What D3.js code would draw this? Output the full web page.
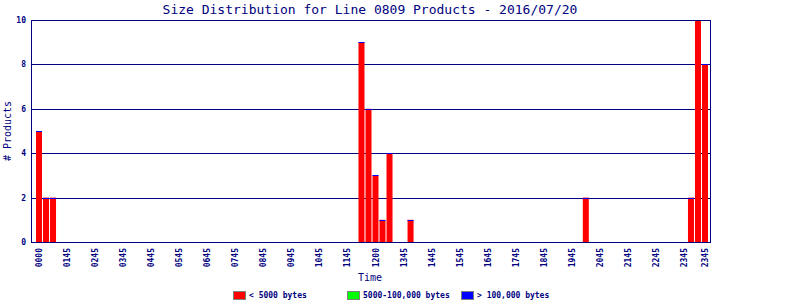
<!DOCTYPE html>
<html>
<head>
<meta charset="utf-8">
<script src="https://cdn.jsdelivr.net/npm/d3@7"></script>
<style>
  body { margin: 0; background: #fff; }
  svg text { font-family: "DejaVu Sans Mono", monospace; fill: #000080; }
</style>
</head>
<body>
<svg id="chart"></svg>
<script>
var chartWidth = 800;
var chartHeight = 300;
var plot = { left: 32, right: 710, top: 20, bottom: 242 };

// 96 quarter-hour slots, bars only where there is data
var slotCount = 96;
var barSlots    = [0, 1, 2, 46, 47, 48, 49, 50, 53, 78, 93, 94, 95];
var smallBytes  = [5, 2, 2, 9, 6, 3, 1, 4, 1, 2, 2, 10, 8];
var mediumBytes = [0, 0, 0, 0, 0, 0, 0, 0, 0, 0, 0, 0, 0];
var largeBytes  = [0, 0, 0, 0, 0, 0, 0, 0, 0, 0, 0, 0, 0];

var tickSlots  = [0, 4, 8, 12, 16, 20, 24, 28, 32, 36, 40, 44, 48, 52, 56, 60, 64, 68, 72, 76, 80, 84, 88, 92, 95];
var tickLabels = ['0000', '0145', '0245', '0345', '0445', '0545', '0645', '0745', '0845', '0945', '1045', '1145',
                  '1200', '1345', '1445', '1545', '1645', '1745', '1845', '1945', '2045', '2145', '2245', '2345', '2345'];
var yTicks = [0, 2, 4, 6, 8, 10];

var seriesNames  = ['< 5000 bytes', '5000-100,000 bytes', '> 100,000 bytes'];
var seriesColors = ['#ff0000', '#00ff00', '#0000ff'];

var svg = d3.select('#chart')
    .attr('width', chartWidth)
    .attr('height', chartHeight);

var xScale = d3.scaleBand()
    .domain(d3.range(slotCount))
    .range([36, 708])
    .paddingInner(1 / 7)
    .paddingOuter(0);

var yScale = d3.scaleLinear()
    .domain([0, 10])
    .range([plot.bottom, plot.top]);

var rows = barSlots.map(function(slot, i) {
  return { slot: slot, small: smallBytes[i], medium: mediumBytes[i], large: largeBytes[i] };
});

// gridlines
svg.append('g')
  .selectAll('line')
  .data(yTicks.filter(function(d) { return d > 0; }))
  .enter()
  .append('line')
    .attr('x1', plot.left)
    .attr('x2', plot.right)
    .attr('y1', function(d) { return Math.round(yScale(d)) + 0.5; })
    .attr('y2', function(d) { return Math.round(yScale(d)) + 0.5; })
    .attr('stroke', '#000080');

// bars
var bars = svg.append('g').selectAll('g')
  .data(rows)
  .enter()
  .append('g');

bars.append('rect')
    .attr('x', function(d) { return xScale(d.slot); })
    .attr('width', xScale.bandwidth())
    .attr('y', function(d) { return yScale(d.small); })
    .attr('height', function(d) { return yScale(0) - yScale(d.small); })
    .attr('fill', seriesColors[0]);

bars.append('rect')
    .attr('x', function(d) { return xScale(d.slot); })
    .attr('width', xScale.bandwidth())
    .attr('y', function(d) { return yScale(d.small + d.medium); })
    .attr('height', function(d) { return yScale(d.small) - yScale(d.small + d.medium); })
    .attr('fill', seriesColors[1]);

// the large series is drawn with at least a 1px cap, like the original
bars.append('rect')
    .attr('x', function(d) { return xScale(d.slot); })
    .attr('width', xScale.bandwidth())
    .attr('y', function(d) { return Math.round(yScale(d.small + d.medium + d.large)); })
    .attr('height', function(d) {
      return Math.max(1, yScale(d.small + d.medium) - yScale(d.small + d.medium + d.large));
    })
    .attr('fill', seriesColors[2]);

// frame: left, bottom, top, right
var frame = svg.append('g').attr('stroke', '#000080').attr('fill', 'none');
frame.append('rect')
    .attr('x', plot.left - 0.5)
    .attr('y', plot.top + 0.5)
    .attr('width', plot.right - plot.left + 1)
    .attr('height', plot.bottom - plot.top);

// y tick labels
svg.append('g')
  .selectAll('text')
  .data(yTicks)
  .enter()
  .append('text')
    .attr('x', 26)
    .attr('y', function(d) { return yScale(d) + 3; })
    .attr('text-anchor', 'end')
    .attr('font-size', '8px')
    .attr('font-weight', 'bold')
    .text(function(d) { return d; });

// x tick labels, vertical
svg.append('g')
  .selectAll('text')
  .data(tickSlots)
  .enter()
  .append('text')
    .attr('transform', function(d) {
      return 'translate(' + (xScale(d) + xScale.bandwidth() / 2 + 3) + ',' + (plot.bottom + 6) + ') rotate(-90)';
    })
    .attr('text-anchor', 'end')
    .attr('font-size', '8px')
    .attr('font-weight', 'bold')
    .text(function(d, i) { return tickLabels[i]; });

// titles
svg.append('text')
    .attr('x', 370)
    .attr('y', 14)
    .attr('text-anchor', 'middle')
    .attr('font-size', '13px')
    .text('Size Distribution for Line 0809 Products - 2016/07/20');

svg.append('text')
    .attr('x', 370)
    .attr('y', 281)
    .attr('text-anchor', 'middle')
    .attr('font-size', '10px')
    .text('Time');

svg.append('text')
    .attr('transform', 'translate(11,' + (plot.top + plot.bottom) / 2 + ') rotate(-90)')
    .attr('text-anchor', 'middle')
    .attr('font-size', '10px')
    .text('# Products');

// legend
var legendX = [233, 347, 461];
var legend = svg.append('g').selectAll('g')
  .data(seriesNames)
  .enter()
  .append('g')
    .attr('transform', function(d, i) { return 'translate(' + legendX[i] + ',291)'; });

legend.append('rect')
    .attr('x', 0.5)
    .attr('y', 0.5)
    .attr('width', 12)
    .attr('height', 8)
    .attr('fill', function(d, i) { return seriesColors[i]; })
    .attr('stroke', '#808080');

legend.append('text')
    .attr('x', 16)
    .attr('y', 7)
    .attr('font-size', '8px')
    .attr('font-weight', 'bold')
    .text(function(d) { return d; });
</script>
</body>
</html>
